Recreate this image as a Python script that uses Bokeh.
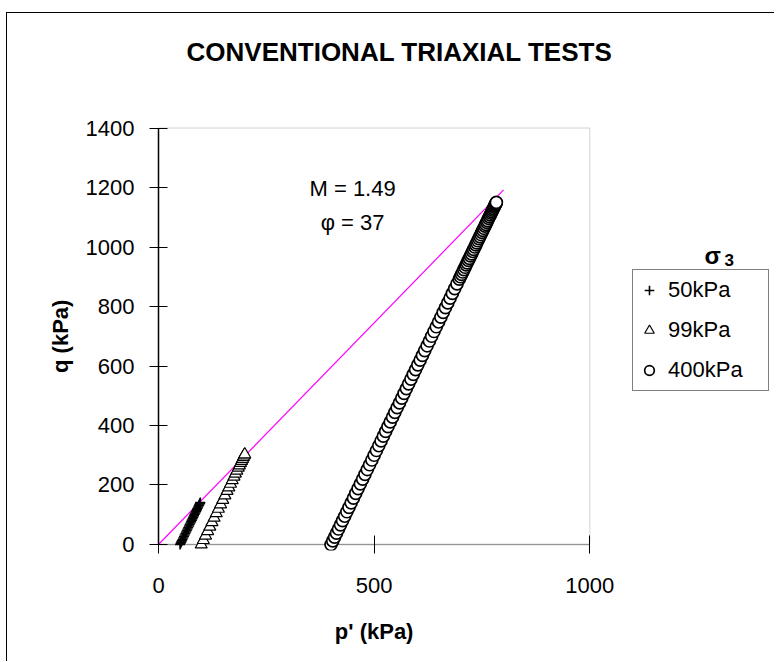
from bokeh.plotting import figure
from bokeh.models import (Label, Legend, LegendItem, Range1d, FixedTicker,
                          BoxAnnotation, LinearAxis)
from bokeh.embed import file_html
from bokeh.resources import INLINE

FONT = "Liberation Sans"

# ---- data ----
x_ticks = [0, 500, 1000]
y_ticks = [0, 200, 400, 600, 800, 1000, 1200, 1400]
x_title = "p' (kPa)"
y_title = "q (kPa)"

# sigma3 = 50 kPa  (plus markers)
p50 = [50.0, 51.3, 52.7, 54.0, 55.7, 57.3, 59.0, 60.7, 62.3, 64.0, 65.7, 67.3,
       69.0, 70.7, 72.3, 74.0, 75.7, 77.3, 79.0, 80.7, 82.3, 84.0, 85.3, 86.7,
       88.0, 89.3, 90.7, 92.0, 93.3, 94.3, 95.3, 96.3, 97.0]
q50 = [0, 4, 8, 12, 17, 22, 27, 32, 37, 42, 47, 52,
       57, 62, 67, 72, 77, 82, 87, 92, 97, 102, 106, 110,
       114, 118, 122, 126, 130, 133, 136, 139, 141]

# sigma3 = 99 kPa  (triangles)
p99 = [99, 104, 109, 114, 119, 124, 129, 134, 139, 144, 149, 154, 159, 163,
       167, 171, 175, 178.3, 181.7, 185, 187.7, 190.3, 192.7, 195, 197, 198.7, 200]
q99 = [0, 15, 30, 45, 60, 75, 90, 105, 120, 135, 150, 165, 180, 192,
       204, 216, 228, 238, 248, 258, 266, 274, 281, 288, 294, 299, 303]

# sigma3 = 400 kPa  (circles)
p400 = [400.0, 404.0, 408.3, 412.7, 417.3, 422.0, 426.7, 431.7, 436.7, 441.7,
        446.7, 452.0, 457.3, 462.7, 468.0, 473.3, 478.7, 484.0, 489.3, 494.7,
        500.0, 505.3, 510.7, 516.0, 521.3, 526.7, 532.0, 537.3, 542.7, 548.0,
        553.3, 558.7, 564.0, 569.3, 574.7, 580.0, 585.3, 590.7, 596.0, 601.3,
        606.7, 612.0, 617.3, 622.7, 628.0, 633.3, 638.7, 644.0, 649.3, 654.7,
        660.0, 665.3, 670.7, 676.0, 681.3, 686.7, 692.0,
        697.3, 700.0, 702.7, 705.3, 708.0, 710.7, 713.3, 715.7, 718.3, 720.7,
        723.3, 725.7, 728.3, 730.7, 733.3, 735.7, 738.0, 740.3, 742.7, 745.0,
        747.3, 749.7, 752.0, 754.3, 756.7, 758.7, 761.0, 763.0, 765.3, 767.3,
        769.3, 771.3, 773.0, 774.7, 776.3, 778.0, 779.3, 780.7, 781.7, 782.7,
        783.3]
q400 = [0, 12, 25, 38, 52, 66, 80, 95, 110, 125,
        140, 156, 172, 188, 204, 220, 236, 252, 268, 284,
        300, 316, 332, 348, 364, 380, 396, 412, 428, 444,
        460, 476, 492, 508, 524, 540, 556, 572, 588, 604,
        620, 636, 652, 668, 684, 700, 716, 732, 748, 764,
        780, 796, 812, 828, 844, 860, 876,
        892, 900, 908, 916, 924, 932, 940, 947, 955, 962,
        970, 977, 985, 992, 1000, 1007, 1014, 1021, 1028, 1035,
        1042, 1049, 1056, 1063, 1070, 1076, 1083, 1089, 1096, 1102,
        1108, 1114, 1119, 1124, 1129, 1134, 1138, 1142, 1145, 1148,
        1150]

# critical state line, M = 1.49
csl_p = [0, 800]
csl_q = [0, 1192]

series_labels = ["50kPa", "99kPa", "400kPa"]

# ---- figure ----
# The frame is extended beyond the plotted axes so that the title, the
# annotations, the legend and the markers sitting on q = 0 are not clipped.
p = figure(width=768, height=649, output_backend="svg", toolbar_location=None,
           x_range=Range1d(0, 1430.5), y_range=Range1d(-20.2, 1785),
           min_border_left=151, min_border_right=0,
           min_border_top=0, min_border_bottom=112)
p.styles = {"border-top": "1px solid #000", "border-left": "1px solid #000",
            "margin-left": "6px", "margin-top": "12px"}
p.background_fill_color = "white"
p.border_fill_color = "white"
p.outline_line_color = None
p.xgrid.visible = False
p.ygrid.visible = False

# plot-area box
p.add_layout(BoxAnnotation(left=x_ticks[0], right=x_ticks[-1],
                           bottom=y_ticks[0], top=y_ticks[-1],
                           fill_alpha=0, line_color="#707070", line_width=1,
                           level="underlay"))
# x-axis line at q = 0
p.add_layout(BoxAnnotation(left=x_ticks[0], right=x_ticks[-1],
                           bottom=y_ticks[0], top=y_ticks[0],
                           fill_alpha=0, line_color="black", line_width=1.5,
                           level="underlay"))

for ax, ticks in ((p.xaxis, x_ticks), (p.yaxis, y_ticks)):
    ax.ticker = FixedTicker(ticks=ticks)
    ax.bounds = (ticks[0], ticks[-1])
    ax.major_label_text_font = FONT
    ax.major_label_text_font_size = "22px"
    ax.major_label_text_color = "black"
    ax.axis_line_color = "black"
    ax.axis_line_width = 1.5
    ax.major_tick_line_color = "black"
    ax.major_tick_line_width = 1
    ax.major_tick_in = 9
    ax.major_tick_out = 9
    ax.minor_tick_line_color = None

# the x-axis sits 6 px below the frame bottom's q = 0 line: ticks are shifted
p.xaxis.axis_line_color = None
p.xaxis.major_tick_in = 15
p.xaxis.major_tick_out = 3
p.xaxis.major_label_standoff = 24
p.yaxis.major_label_standoff = 15

# axis titles, centred on the plotted part of each axis
x_mid = (x_ticks[0] + x_ticks[-1]) / 2
y_mid = (y_ticks[0] + y_ticks[-1]) / 2


def title_axis(mid, text, standoff, orientation):
    return LinearAxis(ticker=FixedTicker(ticks=[mid]),
                      major_label_overrides={mid: text},
                      major_label_orientation=orientation,
                      axis_line_color=None, major_tick_line_color=None,
                      minor_tick_line_color=None, major_tick_in=0, major_tick_out=0,
                      major_label_standoff=standoff,
                      major_label_text_font=FONT, major_label_text_font_style="bold",
                      major_label_text_font_size="22px",
                      major_label_text_color="black")


p.add_layout(title_axis(x_mid, x_title, 23, "horizontal"), "below")
p.add_layout(title_axis(y_mid, y_title, 9, "vertical"), "left")

p.line(csl_p, csl_q, line_color="#FF00FF", line_width=1.2)
r50 = p.scatter(p50, q50, marker="cross", size=10, line_color="black", line_width=1.6)
r99 = p.scatter(p99, q99, marker="triangle", size=12, fill_color="white",
                line_color="black", line_width=1.2)
r400 = p.scatter(p400, q400, marker="circle", size=12, fill_color="white",
                 line_color="black", line_width=1.7)

legend = Legend(items=[LegendItem(label=series_labels[0], renderers=[r50]),
                       LegendItem(label=series_labels[1], renderers=[r99]),
                       LegendItem(label=series_labels[2], renderers=[r400])],
                location=(474, 159), margin=0, padding=4, spacing=8,
                label_height=32, glyph_height=32, glyph_width=24,
                label_standoff=7, label_width=96,
                label_text_font=FONT, label_text_font_size="22px",
                label_text_color="black",
                border_line_color="black", border_line_width=1,
                background_fill_color="white", background_fill_alpha=1)
p.add_layout(legend)

p.add_layout(Label(x=559, y=1654, text="CONVENTIONAL TRIAXIAL TESTS",
                   text_align="center", text_baseline="middle",
                   text_font=FONT, text_font_style="bold", text_font_size="26px",
                   text_color="black"))
p.add_layout(Label(x=450, y=1197, text="M = 1.49", text_align="center",
                   text_baseline="middle", text_font=FONT, text_font_size="22px",
                   text_color="black"))
p.add_layout(Label(x=450, y=1082, text="φ = 37", text_align="center",
                   text_baseline="middle", text_font=FONT, text_font_size="22px",
                   text_color="black"))
p.add_layout(Label(x=1266, y=971, text="σ", text_align="left",
                   text_baseline="alphabetic", text_font=FONT,
                   text_font_style="bold", text_font_size="24px", text_color="black"))
p.add_layout(Label(x=1312, y=955, text="3", text_align="left",
                   text_baseline="alphabetic", text_font=FONT,
                   text_font_style="bold", text_font_size="17px", text_color="black"))

open("out.html", "w").write(file_html(p, INLINE))
